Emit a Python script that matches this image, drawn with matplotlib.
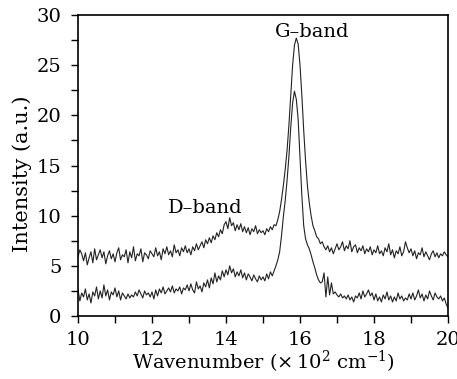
import numpy as np
import matplotlib
matplotlib.use("Agg")
import matplotlib.pyplot as plt
from matplotlib.ticker import MultipleLocator

# Wavenumber (x 10^2 cm^-1), sampled every 0.05
wavenumber = np.round(np.arange(10.0, 20.0001, 0.05), 2)

upper = [
    5.9, 6.6, 6.2, 5.5, 6.3, 5.1, 5.8, 6.4, 5.3, 6.7, 5.6, 6.1, 6.6, 5.8, 6.4, 5.2, 6.0, 6.5, 5.7, 6.2,
    5.4, 6.3, 6.8, 5.6, 6.1, 5.9, 6.6, 5.3, 6.4, 5.8, 6.9, 5.5, 6.2, 6.0, 6.7, 5.4, 6.3, 6.1, 5.7, 6.5,
    6.2, 5.9, 6.8, 6.0, 6.4, 5.6, 6.7, 6.2, 6.9, 6.1, 6.5, 5.9, 7.1, 6.3, 6.6, 6.0, 6.8, 6.4, 7.0, 6.3,
    6.7, 6.1, 6.9, 6.5, 7.2, 6.6, 7.0, 7.4, 6.8, 7.6, 7.2, 7.8, 7.3, 8.0, 7.6, 8.3, 7.9, 8.6, 8.2, 9.1,
    9.4, 8.7, 9.8, 9.0, 9.3, 8.5, 9.1, 8.6, 9.2, 8.4, 8.9, 8.3, 8.8, 8.1, 8.7, 8.4, 9.0, 8.2, 8.6, 8.3,
    8.5, 8.1, 8.7, 8.4, 8.9, 8.6, 9.1, 9.0, 9.6, 10.4, 11.6, 13.0, 14.6, 16.5, 19.0, 22.0, 25.0, 27.0, 27.7, 27.1,
    25.0, 22.0, 18.5, 15.5, 13.0, 11.3, 10.0, 9.0, 8.5, 7.9, 7.7, 7.2, 7.4, 6.9, 6.6, 7.0, 6.4, 6.8, 6.2, 6.7,
    7.2, 6.6, 6.9, 7.4, 6.5, 7.0, 6.7, 7.5, 6.4, 6.9, 7.1, 6.3, 6.8, 6.5, 7.0, 6.2, 6.7, 6.4, 6.9, 6.1,
    6.6, 6.3, 7.0, 6.2, 6.5, 6.0, 6.8, 6.4, 7.2, 6.1, 6.6, 5.8, 6.5, 6.2, 6.9, 6.0, 6.4, 7.4, 6.8, 6.3,
    6.7, 6.0, 6.5, 5.7, 6.3, 6.1, 6.8, 5.9, 6.4, 6.0, 5.6, 6.2, 6.5, 5.9, 6.3, 5.8, 6.2, 6.0, 6.4, 6.1,
    5.9,
]

lower = [
    2.6, 1.5, 2.3, 1.9, 2.7, 1.6, 2.2, 1.3, 2.4, 2.0, 2.9, 1.7, 2.5, 1.8, 3.1, 2.0, 2.6, 1.6, 2.4, 2.1,
    2.8, 1.9, 2.5, 1.6, 2.3, 2.0, 1.7, 2.2, 1.8, 2.1, 1.9, 2.4, 2.0, 2.6, 2.2, 1.8, 2.5, 2.1, 2.3, 1.9,
    2.4, 1.7, 2.6, 2.0, 2.7, 2.3, 2.9, 2.2, 2.5, 2.8, 2.4, 3.0, 2.3, 2.7, 2.5, 2.9, 2.2, 2.8, 2.6, 3.1,
    2.5, 3.2, 2.6, 2.3, 3.4, 2.7, 3.0, 2.4, 3.3, 2.9, 3.6, 2.8, 3.8, 3.2, 4.3, 3.4, 4.0, 3.6, 4.5, 3.9,
    4.6, 4.1, 5.0, 4.3, 4.7, 3.9, 4.4, 4.0, 4.6, 3.8, 4.3, 3.6, 4.2, 3.9, 3.5, 4.1, 3.7, 3.4, 4.0, 3.6,
    3.9, 3.5, 4.2, 3.7, 4.4, 4.0, 4.5, 5.0, 5.6, 6.4, 8.0, 9.9, 11.5, 13.5, 15.9, 18.8, 21.2, 22.4, 21.6, 19.6,
    15.8, 12.0, 9.0, 7.7, 7.1, 6.7, 6.1, 5.4, 4.8, 4.1, 3.6, 3.3, 3.4, 4.3, 1.9, 3.9, 2.1, 3.3, 2.2, 2.4,
    2.1, 1.9, 2.2, 1.8, 2.0, 1.7, 2.1, 1.6, 1.9, 1.4, 2.0, 1.8, 2.3, 1.7, 2.5, 1.9, 2.2, 2.6, 2.0, 2.3,
    1.6, 2.2, 1.5, 1.9, 1.4, 2.1, 1.7, 2.4, 1.6, 2.0, 1.4, 1.9, 1.5, 2.3, 1.7, 2.0, 1.5, 1.8, 1.6, 2.2,
    1.7, 2.3, 1.6, 2.0, 2.6, 1.8, 2.2, 1.5, 2.1, 1.7, 2.5, 2.0, 1.6, 2.3, 1.9, 1.7, 2.0, 1.5, 1.8, 1.2,
    0.8,
]

band_labels = ["G\u2013band", "D\u2013band"]
band_pos = [(16.34, 28.3), (13.43, 10.8)]

plt.rcParams["font.family"] = ["DejaVu Serif"]
plt.rcParams["mathtext.fontset"] = "dejavuserif"

fig = plt.figure(figsize=(4.57, 3.79), dpi=100)
ax = fig.add_axes([0.1707, 0.1662, 0.8096, 0.7942])

ax.plot(wavenumber, upper, color="#222222", lw=0.8)
ax.plot(wavenumber, lower, color="#222222", lw=0.8)

ax.set_xlim(10, 20)
ax.set_ylim(0, 30)
ax.xaxis.set_major_locator(MultipleLocator(2))
ax.xaxis.set_minor_locator(MultipleLocator(1))
ax.yaxis.set_major_locator(MultipleLocator(5))
ax.yaxis.set_minor_locator(MultipleLocator(2.5))
ax.tick_params(which="both", direction="out", top=False, right=False, labelsize=14, width=1.0, length=5)
ax.tick_params(axis="y", pad=7)
ax.tick_params(axis="x", pad=6)
for s in ax.spines.values():
    s.set_linewidth(1.2)

ax.set_xlabel(r"Wavenumber ($\times\,10^2$ cm$^{-1}$)", fontsize=14, labelpad=0)
ax.set_ylabel("Intensity (a.u.)", fontsize=15)
ax.yaxis.set_label_coords(-0.124, 0.472)

for lab, (bx, by) in zip(band_labels, band_pos):
    ax.text(bx, by, lab, fontsize=14, ha="center", va="center")

fig.savefig("out.png", dpi=100)
